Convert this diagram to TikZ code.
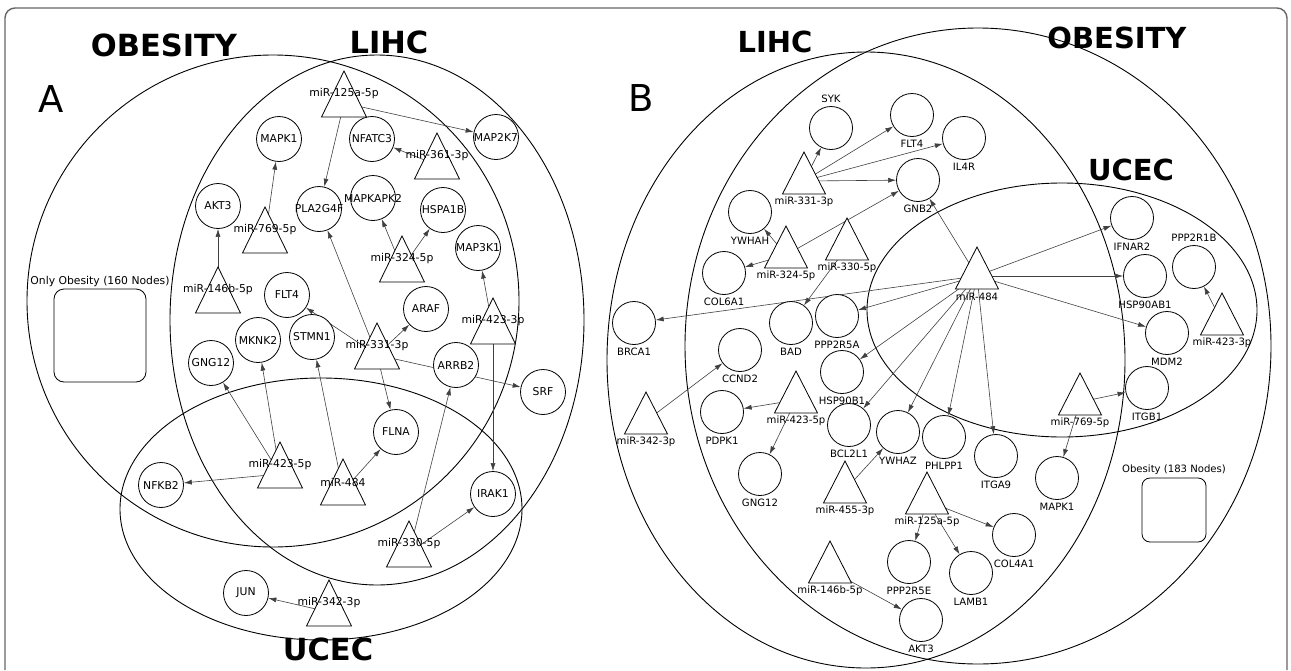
\documentclass[tikz,border=0pt]{standalone}
\usepackage{fontspec}
\setmainfont{DejaVu Sans}
\usetikzlibrary{arrows.meta}
\pgfdeclarelayer{venn}
\pgfdeclarelayer{edges}
\pgfsetlayers{venn,edges,main}
\tikzset{
  cA/.style={circle, draw, fill=white, line width=0.8pt, minimum size=45pt, inner sep=0pt, font=\fontsize{10.8}{13}\selectfont},
  cB/.style={circle, draw, fill=white, line width=0.8pt, minimum size=43pt, inner sep=0pt},
  lblB/.style={font=\fontsize{10.1}{12}\selectfont, inner sep=0pt},
  tnA/.style={circle, minimum size=28pt, inner sep=0pt},
  tnB/.style={circle, minimum size=26pt, inner sep=0pt},
  trishape/.style={draw, fill=white, line width=0.8pt},
  tlblA/.style={font=\fontsize{10.8}{13}\selectfont, inner sep=0pt},
  tlblB/.style={font=\fontsize{10.1}{12}\selectfont, inner sep=0pt},
  vennline/.style={draw, line width=0.9pt},
  edge/.style={draw=black!75, line width=0.6pt, -{Latex[length=8pt,width=5pt]}},
  ttlA/.style={font=\fontsize{30.5}{34}\selectfont\bfseries, inner sep=0pt},
  ttlB/.style={font=\fontsize{29}{32}\selectfont\bfseries, inner sep=0pt},
  panel/.style={font=\fontsize{37}{40}\selectfont, inner sep=0pt},
  onlybox/.style={draw, rounded corners=10pt, line width=0.8pt, inner sep=0pt},
  boxlbl/.style={font=\fontsize{10.8}{13}\selectfont, inner sep=0pt},
}
\newcommand\triA[4]{%
  \node[tnA] (#1) at (#2,#3+32) {};
  \path[trishape] (#2,#3) -- (#2-22.5,#3+46) -- (#2+22.5,#3+46) -- cycle;
  \node[tlblA] (#1l) at (#2,#3+23) {#4};
}
\newcommand\triB[4]{%
  \node[tnB] (#1) at (#2,#3+29) {};
  \path[trishape] (#2,#3) -- (#2-21.5,#3+42) -- (#2+21.5,#3+42) -- cycle;
  \node[tlblB] (#1l) at (#2,#3+50) {#4};
}
\newcommand\cirB[5]{% name, x, y, position, text
  \node[cB, label={[lblB, label distance=3pt]#4:#5}] (#1) at (#2,#3) {};
}
\begin{document}
\begin{tikzpicture}[x=1pt, y=-1pt]
\useasboundingbox (0,0) rectangle (1291,670);
% frame
\draw[black!60, line width=1.4pt] (5,670) -- (5,18) arc[start angle=180, end angle=270, radius=10] -- (1277,8) arc[start angle=270, end angle=360, radius=10] -- (1287,670);

% ---------------- Panel A ----------------
\begin{pgfonlayer}{venn}
\draw[vennline] (273,301) circle[radius=246];
\draw[vennline] (377,320) ellipse[x radius=207, y radius=265];
\draw[vennline] (321,509) ellipse[x radius=201, y radius=131];
\end{pgfonlayer}
\node[ttlA] (tObA) at (164,45) {OBESITY};
\node[ttlA] (tLiA) at (389,42) {LIHC};
\node[ttlA] (tUcA) at (328,649) {UCEC};
\node[panel] (pA) at (51.5,99) {A};
\node[onlybox, minimum width=92pt, minimum height=93pt, label={[boxlbl, label distance=2pt]above:Only Obesity (160 Nodes)}] (onlyA) at (100,335.5) {};

\node[cA] (a_mapk1) at (279,139) {\makebox[0pt]{MAPK1}};
\node[cA] (a_akt3) at (218,206) {\makebox[0pt]{AKT3}};
\node[cA] (a_flt4) at (287,295) {\makebox[0pt]{FLT4}};
\node[cA] (a_pla) at (319,209) {\makebox[0pt]{PLA2G4F}};
\node[cA] (a_mknk2) at (258,340) {\makebox[0pt]{MKNK2}};
\node[cA] (a_stmn1) at (312,337) {\makebox[0pt]{STMN1}};
\node[cA] (a_gng12) at (211,363) {\makebox[0pt]{GNG12}};
\node[cA] (a_nfkb2) at (161,485) {\makebox[0pt]{NFKB2}};
\node[cA] (a_jun) at (246,593) {\makebox[0pt]{JUN}};
\node[cA] (a_flna) at (396,432) {\makebox[0pt]{FLNA}};
\node[cA] (a_irak1) at (493,494) {\makebox[0pt]{IRAK1}};
\node[cA] (a_srf) at (543,392) {\makebox[0pt]{SRF}};
\node[cA] (a_arrb2) at (456,365) {\makebox[0pt]{ARRB2}};
\node[cA] (a_araf) at (426,309) {\makebox[0pt]{ARAF}};
\node[cA] (a_map3k1) at (478,248) {\makebox[0pt]{MAP3K1}};
\node[cA] (a_hspa1b) at (443,210) {\makebox[0pt]{HSPA1B}};
\node[cA] (a_mapkapk2) at (373,198) {\makebox[0pt]{MAPKAPK2}};
\node[cA] (a_nfatc3) at (372,139) {\makebox[0pt]{NFATC3}};
\node[cA] (a_map2k7) at (496,137) {\makebox[0pt]{MAP2K7}};

\triA{tA125}{344}{71}{miR-125a-5p}
\triA{tA361}{437}{133}{miR-361-3p}
\triA{tA769}{265}{207}{miR-769-5p}
\triA{tA146}{218}{267}{miR-146b-5p}
\triA{tA324}{402}{236}{miR-324-5p}
\triA{tA331}{377}{323}{miR-331-3p}
\triA{tA4233}{493}{298}{miR-423-3p}
\triA{tA4235}{280}{442}{miR-423-5p}
\triA{tA484}{343}{459}{miR-484}
\triA{tA330}{409}{521}{miR-330-5p}
\triA{tA342}{329}{580}{miR-342-3p}

\begin{pgfonlayer}{edges}
\foreach \s/\t in {tA125/a_map2k7, tA125/a_pla, tA361/a_nfatc3, tA769/a_mapk1,
  tA146/a_akt3, tA324/a_mapkapk2, tA324/a_hspa1b, tA331/a_pla, tA331/a_flt4,
  tA331/a_araf, tA331/a_flna, tA331/a_srf, tA4233/a_map3k1, tA4233/a_irak1,
  tA4235/a_gng12, tA4235/a_mknk2, tA4235/a_nfkb2, tA484/a_stmn1, tA484/a_flna,
  tA330/a_arrb2, tA330/a_irak1, tA342/a_jun}
  \draw[edge] (\s) -- (\t);
\end{pgfonlayer}

% ---------------- Panel B ----------------
\begin{pgfonlayer}{venn}
\draw[vennline] (866,360) ellipse[x radius=259, y radius=308];
\draw[vennline] (978,346) ellipse[x radius=293, y radius=318];
\draw[vennline] (1062,310) ellipse[x radius=195, y radius=127];
\end{pgfonlayer}
\node[ttlB] (tLiB) at (775,42) {LIHC};
\node[ttlB] (tObB) at (1117,38) {OBESITY};
\node[ttlB] (tUcB) at (1131,170) {UCEC};
\node[panel] (pB) at (641,98.5) {B};
\node[onlybox, rounded corners=8pt, minimum width=64pt, minimum height=64pt, label={[lblB, label distance=3pt]above:Obesity (183 Nodes)}] (onlyB) at (1174,510) {};

\cirB{b_syk}{831}{128}{above}{SYK}
\cirB{b_flt4}{912}{115}{below}{FLT4}
\cirB{b_il4r}{964}{138}{below}{IL4R}
\cirB{b_gnb2}{918}{180}{below}{GNB2}
\cirB{b_ywhah}{750}{212}{below}{YWHAH}
\cirB{b_col6a1}{724}{273}{below}{COL6A1}
\cirB{b_brca1}{634}{323}{below}{BRCA1}
\cirB{b_bad}{791}{323}{below}{BAD}
\cirB{b_ppp2r5a}{837}{316}{below}{PPP2R5A}
\cirB{b_hsp90b1}{842}{372}{below}{HSP90B1}
\cirB{b_bcl2l1}{849}{425}{below}{BCL2L1}
\cirB{b_ywhaz}{898}{432}{below}{YWHAZ}
\cirB{b_phlpp1}{944}{437}{below}{PHLPP1}
\cirB{b_itga9}{996}{456}{below}{ITGA9}
\cirB{b_mapk1}{1057}{478}{below}{MAPK1}
\cirB{b_itgb1}{1147}{388}{below}{ITGB1}
\cirB{b_mdm2}{1167}{333}{below}{MDM2}
\cirB{b_ppp2r1b}{1194}{267}{above}{PPP2R1B}
\cirB{b_hsp90ab1}{1145}{276}{below}{HSP90AB1}
\cirB{b_ifnar2}{1132}{218}{below}{IFNAR2}
\cirB{b_ccnd2}{740}{350}{below}{CCND2}
\cirB{b_pdpk1}{722}{412}{below}{PDPK1}
\cirB{b_gng12}{760}{474}{below}{GNG12}
\cirB{b_ppp2r5e}{909}{562}{below}{PPP2R5E}
\cirB{b_akt3}{921}{620}{below}{AKT3}
\cirB{b_lamb1}{971}{573}{below}{LAMB1}
\cirB{b_col4a1}{1014}{535}{below}{COL4A1}

\triB{tB331}{804}{152}{miR-331-3p}
\triB{tB324}{786}{226}{miR-324-5p}
\triB{tB330}{847}{218}{miR-330-5p}
\triB{tB484}{977}{247}{miR-484}
\triB{tB4235}{796}{371}{miR-423-5p}
\triB{tB342}{646}{392}{miR-342-3p}
\triB{tB455}{845}{461}{miR-455-3p}
\triB{tB125}{927}{472}{miR-125a-5p}
\triB{tB146}{830}{541}{miR-146b-5p}
\triB{tB769}{1080}{373}{miR-769-5p}
\triB{tB4233}{1222}{293}{miR-423-3p}

\begin{pgfonlayer}{edges}
\foreach \s/\t in {tB331/b_syk, tB331/b_flt4, tB331/b_il4r, tB331/b_gnb2,
  tB324/b_ywhah, tB324/b_gnb2, tB324/b_col6a1, tB330/b_bad,
  tB484/b_gnb2, tB484/b_ifnar2, tB484/b_hsp90ab1, tB484/b_mdm2, tB484/b_brca1,
  tB484/b_ppp2r5a, tB484/b_hsp90b1, tB484/b_bcl2l1, tB484/b_ywhaz, tB484/b_phlpp1,
  tB484/b_itga9, tB4235/b_pdpk1, tB4235/b_gng12, tB342/b_ccnd2, tB455/b_ywhaz,
  tB125/b_ppp2r5e, tB125/b_lamb1, tB125/b_col4a1, tB146/b_akt3,
  tB769/b_itgb1, tB769/b_mapk1, tB4233/b_ppp2r1b}
  \draw[edge] (\s) -- (\t);
\end{pgfonlayer}
\end{tikzpicture}
\end{document}
